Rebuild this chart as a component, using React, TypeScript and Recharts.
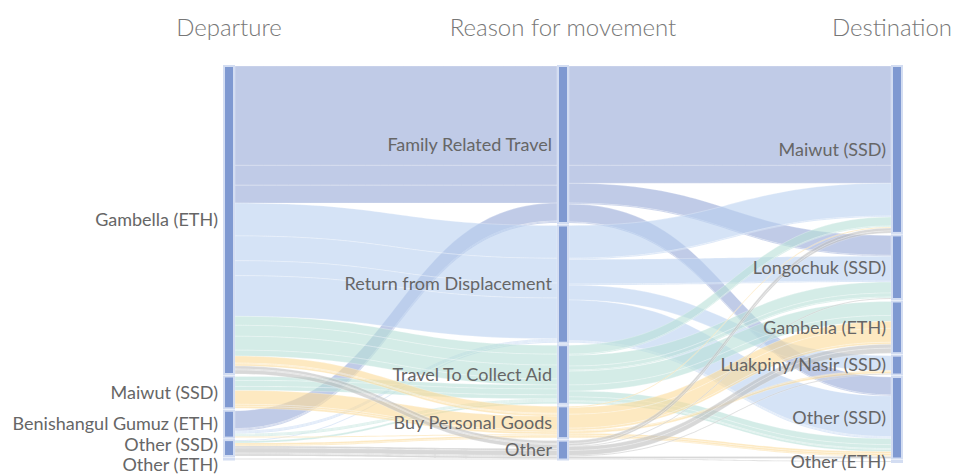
import { Sankey } from "recharts"

const departures = [
  "Gambella (ETH)",
  "Maiwut (SSD)",
  "Benishangul Gumuz (ETH)",
  "Other (SSD)",
  "Other (ETH)",
]

const reasons = [
  "Family Related Travel",
  "Return from Displacement",
  "Travel To Collect Aid",
  "Buy Personal Goods",
  "Other",
]

const destinations = [
  "Maiwut (SSD)",
  "Longochuk (SSD)",
  "Gambella (ETH)",
  "Luakpiny/Nasir (SSD)",
  "Other (SSD)",
  "Other (ETH)",
]

const columnTitles = ["Departure", "Reason for movement", "Destination"]

// [departure, reason, destination, value]
const journeys: [number, number, number, number][] = [
  [0, 0, 0, 100], [0, 0, 1, 20], [0, 0, 4, 18],
  [2, 0, 0, 18], [2, 0, 1, 1], [2, 0, 4, 1],
  [0, 1, 0, 33], [0, 1, 1, 25], [0, 1, 3, 15], [0, 1, 4, 41],
  [2, 1, 0, 1], [2, 1, 1, 1], [2, 1, 4, 1], [3, 1, 4, 1],
  [0, 2, 0, 9], [0, 2, 1, 11], [0, 2, 2, 14], [0, 2, 4, 6],
  [1, 2, 1, 4], [1, 2, 2, 6], [1, 2, 4, 4],
  [2, 2, 0, 1], [2, 2, 1, 1], [2, 2, 4, 1], [3, 2, 4, 2],
  [0, 3, 2, 7], [0, 3, 3, 1], [0, 3, 4, 2],
  [1, 3, 2, 14], [1, 3, 3, 2], [1, 3, 4, 2],
  [2, 3, 0, 1], [3, 3, 2, 2], [3, 3, 4, 1],
  [0, 4, 0, 3], [0, 4, 1, 1], [0, 4, 2, 4],
  [3, 4, 0, 2], [3, 4, 2, 5], [3, 4, 3, 1], [3, 4, 4, 2],
  [4, 4, 5, 1],
]

const reasonColors = ["#96a8d7", "#b9d0f0", "#b7dfd7", "#fcda98", "#bebebe"]

const reasonStart = departures.length
const destStart = departures.length + reasons.length

// small vertical nudges so the two bottom departure labels don't collide
const labelNudge: Record<number, number> = { 3: -3, 4: 6 }

const nodes = [...departures, ...reasons, ...destinations].map((name) => ({ name }))
const links = [
  ...journeys.map(([d, r, , v]) => ({ source: d, target: reasonStart + r, value: v })),
  ...journeys.map(([, r, t, v]) => ({ source: reasonStart + r, target: destStart + t, value: v })),
]

function Ribbon(props: any) {
  const { sourceX, targetX, sourceY, targetY, sourceControlX, targetControlX, linkWidth, index } = props
  const reason = journeys[index % journeys.length][1]
  const h = linkWidth / 2
  const d =
    `M${sourceX},${sourceY - h}` +
    `C${sourceControlX},${sourceY - h} ${targetControlX},${targetY - h} ${targetX},${targetY - h}` +
    `L${targetX},${targetY + h}` +
    `C${targetControlX},${targetY + h} ${sourceControlX},${sourceY + h} ${sourceX},${sourceY + h}Z`
  return (
    <path
      d={d}
      fill={reasonColors[reason]}
      fillOpacity={0.6}
      stroke="#fff"
      strokeOpacity={0.5}
      strokeWidth={0.5}
    />
  )
}

function Bar(props: any) {
  const { x, y, width, height, index, payload } = props
  return (
    <g>
      <rect
        x={x + 1}
        y={y}
        width={width - 2}
        height={Math.max(height, 1)}
        fill="#7f99d1"
        stroke="#d3ddf2"
        strokeWidth={2}
      />
      <text
        x={x - 5}
        y={y + height / 2 + (labelNudge[index] ?? 0)}
        dy="0.35em"
        textAnchor="end"
        fontSize={18}
        fill="#666"
      >
        {payload.name}
      </text>
    </g>
  )
}

export default function App() {
  return (
    <div style={{ position: "relative", width: 945, height: 466, fontFamily: "Lato, sans-serif" }}>
      <style>{"body { overflow: hidden; }"}</style>
      <Sankey
        width={945}
        height={466}
        data={{ nodes, links }}
        nodeWidth={12}
        nodePadding={2.5}
        iterations={0}
        margin={{ top: 58, right: 50, bottom: 12, left: 215 }}
        node={(p: any) => <Bar {...p} />}
        link={(p: any) => <Ribbon {...p} />}
      />
      <div style={{ position: "absolute", left: 0, top: 0, width: 945, height: 50, pointerEvents: "none" }}>
        {columnTitles.map((title, i) => (
          <div
            key={title}
            style={{
              position: "absolute",
              top: 4,
              left: [221, 555, 884][i] - 150,
              width: 300,
              textAlign: "center",
              fontSize: 24,
              fontWeight: 300,
              color: "#777",
              whiteSpace: "nowrap",
            }}
          >
            {title}
          </div>
        ))}
      </div>
    </div>
  )
}
